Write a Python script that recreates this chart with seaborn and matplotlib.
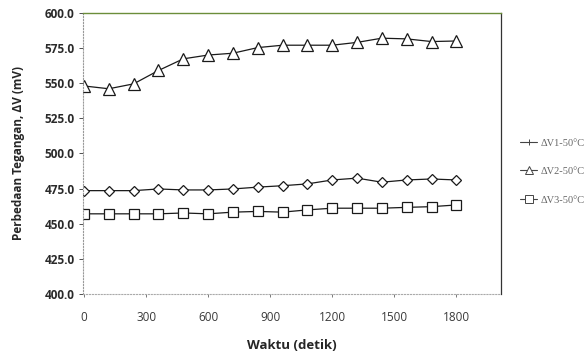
import matplotlib
matplotlib.use('Agg')
import matplotlib.pyplot as plt
import pandas as pd
import seaborn as sns
from matplotlib.lines import Line2D
from matplotlib.ticker import FormatStrFormatter

# Data
waktu = [0, 120, 240, 360, 480, 600, 720, 840, 960, 1080, 1200, 1320, 1440, 1560, 1680, 1800]
dv1 = [473.5, 473.5, 473.5, 474.7, 474.0, 474.0, 474.7, 476.0, 477.0, 478.3, 481.1, 482.4, 479.5, 481.1, 481.8, 481.1]
dv2 = [548.0, 546.0, 549.5, 559.0, 567.3, 570.0, 571.3, 575.3, 577.0, 577.0, 577.0, 579.0, 582.0, 581.5, 579.6, 580.0]
dv3 = [457.0, 457.0, 457.0, 457.0, 457.6, 457.0, 458.2, 458.7, 458.2, 459.8, 461.0, 461.0, 461.0, 461.6, 462.1, 463.3]
series_names = ['ΔV1-50°C', 'ΔV2-50°C', 'ΔV3-50°C']
yticks = [400, 425, 450, 475, 500, 525, 550, 575, 600]
xticks = [0, 300, 600, 900, 1200, 1500, 1800]

df = pd.DataFrame({
    'waktu': waktu * 3,
    'dv': dv1 + dv2 + dv3,
    'seri': [series_names[0]] * len(waktu) + [series_names[1]] * len(waktu) + [series_names[2]] * len(waktu),
})

sns.set_style('white')
plt.rcParams['font.family'] = ['Open Sans', 'DejaVu Sans']

fig = plt.figure(figsize=(5.86, 3.58), dpi=100)
ax = fig.add_axes([0.1416, 0.179, 0.713, 0.785])

markers = {series_names[0]: 'D', series_names[1]: '^', series_names[2]: 's'}
palette = {n: '#1a1a1a' for n in series_names}
sns.lineplot(data=df, x='waktu', y='dv', hue='seri', style='seri', markers=markers,
             dashes=False, palette=palette, ax=ax, legend=False,
             markersize=7.5, mfc='white', mec='#1a1a1a', mew=0.9, linewidth=0.9)

# marker sizes per series
for line in ax.get_lines():
    m = line.get_marker()
    if m == 'D':
        line.set_markersize(5.5)
    elif m == '^':
        line.set_markersize(8.5)
    elif m == 's':
        line.set_markersize(7.5)

ax.set_xlim(-5, 2015)
ax.set_ylim(400, 600)
ax.set_yticks(yticks)
ax.set_xticks(xticks)
ax.yaxis.set_major_formatter(FormatStrFormatter('%.1f'))
ax.tick_params(axis='y', labelsize=8.5, colors='#333333', length=3, width=0.6, left=True, pad=3)
ax.tick_params(axis='x', labelsize=8.5, colors='#444444', length=2, width=0.5, bottom=True, pad=10)
for lab in ax.get_yticklabels():
    lab.set_fontweight('bold')
    lab.set_color('#2a2a2a')
for lab in ax.get_xticklabels():
    lab.set_color('#3a3a3a')

ax.set_xlabel('Waktu (detik)', fontsize=9.5, fontweight='bold', labelpad=11)
ax.set_ylabel('Perbedaan Tegangan, ΔV (mV)', fontsize=8.5, fontweight='bold', labelpad=14)

ax.spines['left'].set_color('#999999')
ax.spines['left'].set_linestyle(':')
ax.spines['bottom'].set_color('#aaaaaa')
ax.spines['bottom'].set_linestyle(':')
ax.spines['top'].set_color('#6b8e3a')
ax.spines['top'].set_linewidth(1.0)
ax.spines['right'].set_color('#333333')
ax.spines['right'].set_linewidth(0.9)

handles = [
    Line2D([], [], color='#444444', lw=0.8, marker='+', markersize=4, mew=0.7),
    Line2D([], [], color='#444444', lw=0.8, marker='^', markersize=5.5, mfc='white', mec='#444444', mew=0.7),
    Line2D([], [], color='#444444', lw=0.8, marker='s', markersize=5.5, mfc='white', mec='#444444', mew=0.7),
]
fig.legend(handles, series_names, loc='upper left', bbox_to_anchor=(0.872, 0.64),
           frameon=False, handlelength=1.6, handletextpad=0.35, labelspacing=1.85,
           prop={'family': ['Liberation Serif', 'DejaVu Serif'], 'size': 7.5},
           labelcolor='#666666')

fig.savefig('out.png', dpi=100)
